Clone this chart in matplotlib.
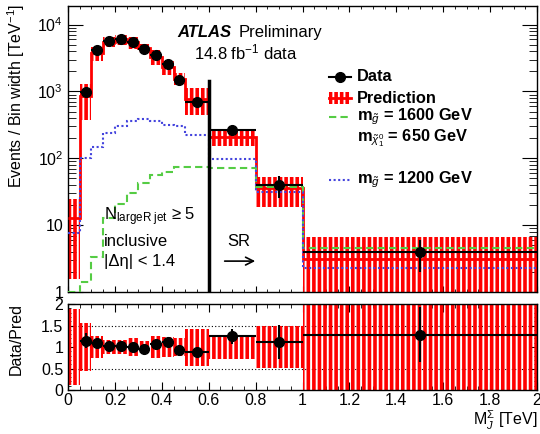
import numpy as np
import matplotlib
matplotlib.use("Agg")
import matplotlib.pyplot as plt
from matplotlib.ticker import FixedLocator, MultipleLocator, LogLocator, NullFormatter
from matplotlib.patches import Rectangle

plt.rcParams['font.family'] = ['Liberation Sans', 'DejaVu Sans']
plt.rcParams['mathtext.fontset'] = 'custom'
plt.rcParams['mathtext.rm'] = 'Liberation Sans'
plt.rcParams['mathtext.it'] = 'Liberation Sans:italic'
plt.rcParams['mathtext.bf'] = 'Liberation Sans:bold'
plt.rcParams['hatch.linewidth'] = 2.6

# bin edges in TeV
edges = [0, 0.05, 0.1, 0.15, 0.2, 0.25, 0.3, 0.35, 0.4, 0.45, 0.5, 0.6, 0.8, 1.0, 2.0]
# events / bin width [TeV^-1]
data = [np.nan, 970, 4120, 5700, 6170, 5430, 4270, 3515, 2570, 1465, 686, 264, 40, 4.0]
pred = [13, 843, 3745, 5590, 6050, 5430, 4450, 3316, 2315, 1560, 780, 211, 36, 3.1]
pred_err = [0.88, 0.55, 0.25, 0.17, 0.17, 0.2, 0.15, 0.25, 0.23, 0.2, 0.43, 0.27, 0.48, 1.15]
sig1600 = [1.0, 1.43, 3.3, 12.8, 21, 30, 43, 57, 62, 73, 75, 71, 37, 4.5]
sig1200 = [7.6, 100, 150, 240, 308, 357, 385, 357, 317, 300, 226, 97, 31, 2.3]

edges = np.array(edges)
data = np.array(data)
pred = np.array(pred)
pred_err = np.array(pred_err)
width = np.diff(edges)
centers = edges[:-1] + width / 2
data_err = np.sqrt(data * width) / width

red = '#ff0000'
green = '#55cc44'
blue = '#4444dd'
fs = 12

fig = plt.figure(figsize=(5.4, 4.34), dpi=100)
ax = fig.add_axes([0.126, 0.3272, 0.8685, 0.659])
rax = fig.add_axes([0.126, 0.1014, 0.8685, 0.198])

# ---- top panel
lo = np.clip(pred * (1 - pred_err), 0.1, None)
hi = pred * (1 + pred_err)
ax.bar(edges[:-1], hi - lo, bottom=lo, width=width, align='edge',
       facecolor='none', edgecolor=red, hatch='|||', linewidth=0, zorder=2)
ax.stairs(pred, edges, baseline=None, color=red, lw=2, zorder=3)
ax.stairs(sig1600, edges, baseline=None, color=green, lw=1.5, ls=(0, (3.5, 2)), zorder=3)
ax.stairs(sig1200, edges, baseline=None, color=blue, lw=1.5, ls=(0, (1, 1.2)), zorder=3)
ax.errorbar(centers, data, xerr=width / 2, yerr=data_err, fmt='o', color='black',
            ms=7, lw=1.5, capsize=0, zorder=5)
ax.plot([0.6, 0.6], [1, 1410], color='black', lw=2.5, zorder=4)

ax.set_yscale('log')
ax.set_xlim(0, 2)
ax.set_ylim(1, 1.9e4)
ax.yaxis.set_major_locator(FixedLocator([1, 10, 100, 1000, 10000]))
ax.set_yticklabels(['1', '10', '$10^2$', '$10^3$', '$10^4$'])
ax.yaxis.set_minor_locator(LogLocator(base=10, subs=np.arange(2, 10), numticks=20))
ax.yaxis.set_minor_formatter(NullFormatter())
ax.xaxis.set_major_locator(MultipleLocator(0.2))
ax.xaxis.set_minor_locator(MultipleLocator(0.05))
ax.tick_params(axis='x', which='both', direction='in', top=True, labelbottom=False)
ax.tick_params(axis='x', which='major', length=4.5)
ax.tick_params(axis='x', which='minor', length=2.5)
ax.tick_params(axis='y', which='both', direction='in', right=True, labelsize=11.5)
ax.tick_params(axis='y', which='major', length=11)
ax.tick_params(axis='y', which='minor', length=6)
fig.text(16 / 540, 1 - 4 / 434, 'Events / Bin width [TeV$^{-1}$]', rotation=90,
         fontsize=11.5, ha='center', va='top')

ax.text(0.232, 0.909, 'ATLAS', transform=ax.transAxes, fontsize=fs,
        fontweight='bold', fontstyle='italic', va='center')
ax.text(0.363, 0.909, 'Preliminary', transform=ax.transAxes, fontsize=fs, va='center')
ax.text(0.268, 0.839, '14.8 fb$^{-1}$ data', transform=ax.transAxes, fontsize=fs, va='center')
ax.text(0.077, 0.265, 'N$_{\\mathrm{largeR\\ jet}}$ ≥ 5', transform=ax.transAxes,
        fontsize=fs, va='center')
ax.text(0.077, 0.175, 'inclusive', transform=ax.transAxes, fontsize=fs, va='center')
ax.text(0.077, 0.108, '|Δη| < 1.4', transform=ax.transAxes, fontsize=fs, va='center')
ax.text(0.339, 0.175, 'SR', transform=ax.transAxes, fontsize=fs, va='center')
ax.annotate('', xy=(0.405, 0.108), xytext=(0.328, 0.108), xycoords='axes fraction',
            arrowprops=dict(arrowstyle='->', lw=1.2, color='black', mutation_scale=14))

# legend drawn by hand
lfs = 11.8
hx0, hx1, tx = 0.556, 0.604, 0.616
ax.plot([hx0, hx1], [0.752, 0.752], color='black', lw=1.5, transform=ax.transAxes)
ax.plot([(hx0 + hx1) / 2], [0.752], 'o', color='black', ms=7, transform=ax.transAxes)
ax.text(tx, 0.752, 'Data', transform=ax.transAxes, fontsize=lfs, fontweight='bold', va='center')
ax.add_patch(Rectangle((hx0, 0.656), hx1 - hx0, 0.044, transform=ax.transAxes,
                       facecolor='none', edgecolor=red, hatch='|||', lw=0))
ax.plot([hx0, hx1], [0.678, 0.678], color=red, lw=2, transform=ax.transAxes)
ax.text(tx, 0.678, 'Prediction', transform=ax.transAxes, fontsize=lfs, fontweight='bold', va='center')
ax.plot([hx0, hx1], [0.612, 0.612], color=green, lw=1.5, ls=(0, (3.5, 2)), transform=ax.transAxes)
ax.text(tx, 0.612, '$\\mathbf{m}_{\\tilde{g}}$ = 1600 GeV', transform=ax.transAxes,
        fontsize=lfs, fontweight='bold', va='center')
ax.text(tx, 0.538, '$\\mathbf{m}_{\\tilde{\\chi}^{0}_{1}}$ = 650 GeV', transform=ax.transAxes,
        fontsize=lfs, fontweight='bold', va='center')
ax.plot([hx0, hx1], [0.392, 0.392], color=blue, lw=1.5, ls=(0, (1, 1.2)), transform=ax.transAxes)
ax.text(tx, 0.392, '$\\mathbf{m}_{\\tilde{g}}$ = 1200 GeV', transform=ax.transAxes,
        fontsize=lfs, fontweight='bold', va='center')

# ---- ratio panel
ratio = data / pred
ratio_err = data_err / pred
rax.bar(edges[:-1], 2 * pred_err, bottom=1 - pred_err, width=width, align='edge',
        facecolor='none', edgecolor=red, hatch='|||', linewidth=0, zorder=2)
rax.axhline(0.5, color='black', lw=0.8, ls=(0, (1, 2)), zorder=1)
rax.axhline(1.5, color='black', lw=0.8, ls=(0, (1, 2)), zorder=1)
rax.errorbar(centers, ratio, xerr=width / 2, yerr=ratio_err, fmt='o', color='black',
             ms=7, lw=1.5, capsize=0, zorder=5)
rax.set_xlim(0, 2)
rax.set_ylim(0, 2)
rax.xaxis.set_minor_locator(MultipleLocator(0.05))
rax.yaxis.set_minor_locator(MultipleLocator(0.1))
rax.set_xticks([0, 0.2, 0.4, 0.6, 0.8, 1, 1.2, 1.4, 1.6, 1.8, 2])
rax.set_xticklabels(['0', '0.2', '0.4', '0.6', '0.8', '1', '1.2', '1.4', '1.6', '1.8', '2'])
rax.set_yticks([0, 0.5, 1, 1.5, 2])
rax.set_yticklabels(['0', '0.5', '1', '1.5', '2'])
rax.tick_params(which='both', direction='in', top=True, right=True, labelsize=11.5)
rax.tick_params(axis='x', which='major', length=6, pad=2)
rax.tick_params(axis='x', which='minor', length=3)
rax.tick_params(axis='y', which='major', length=5)
rax.tick_params(axis='y', which='minor', length=2.5)
fig.text(16 / 540, 1 - 339 / 434, 'Data/Pred', rotation=90, fontsize=11.5,
         ha='center', va='center')
fig.text(537 / 540, 1 - 425 / 434, 'M$^{\\Sigma}_{J}$ [TeV]', fontsize=11.5,
         ha='right', va='baseline')

for a in (ax, rax):
    for s in a.spines.values():
        s.set_linewidth(1.0)

fig.savefig('out.png', dpi=100)
